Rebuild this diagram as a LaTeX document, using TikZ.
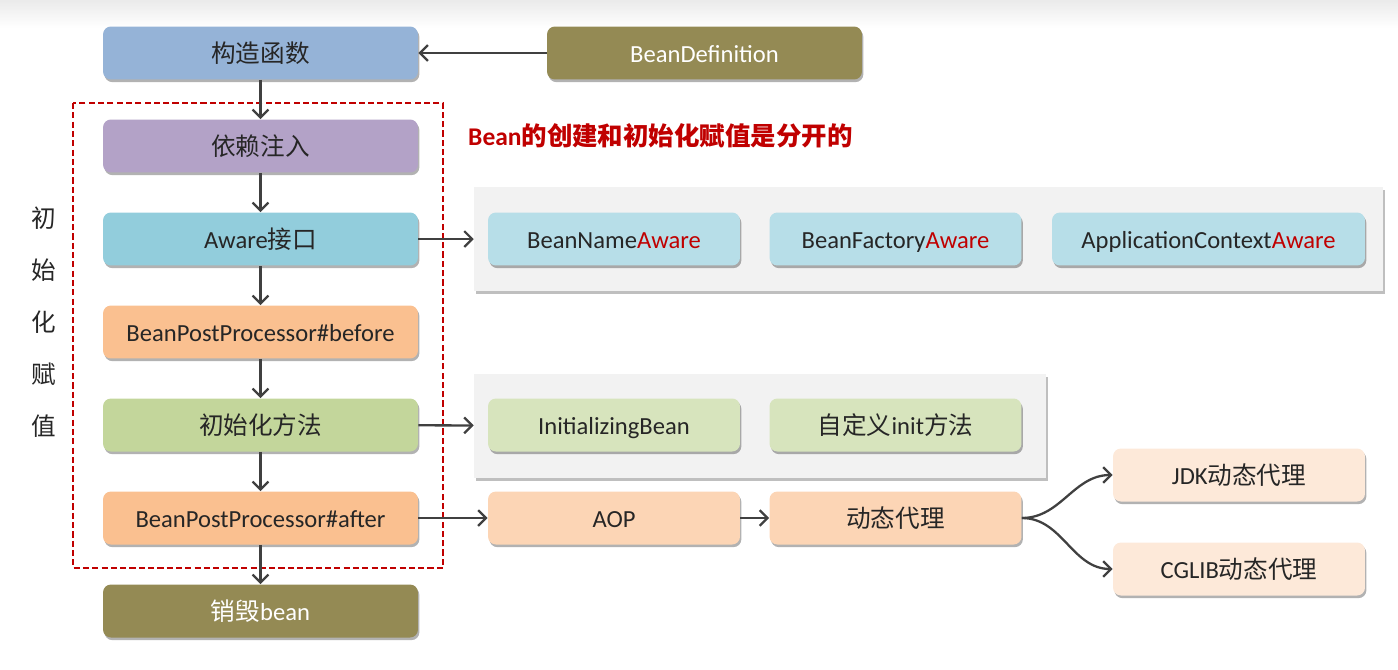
\documentclass[tikz,border=0pt]{standalone}
\usepackage{fontspec}
\setmainfont{Carlito}
\newfontfamily\cjk{Noto Sans CJK SC}
\usetikzlibrary{arrows.meta,shadows,positioning}
\definecolor{txtdark}{HTML}{262626}
\definecolor{linegray}{HTML}{404040}
\definecolor{darkred}{HTML}{C00000}
\definecolor{ctorblue}{HTML}{95B3D7}
\definecolor{dipurple}{HTML}{B3A2C7}
\definecolor{awarecyan}{HTML}{92CDDC}
\definecolor{bpporange}{HTML}{FAC090}
\definecolor{initgreen}{HTML}{C3D69B}
\definecolor{olive}{HTML}{948A54}
\definecolor{subcyan}{HTML}{B7DEE8}
\definecolor{subgreen}{HTML}{D7E4BD}
\definecolor{aoppeach}{HTML}{FCD5B5}
\definecolor{proxypeach}{HTML}{FDE9D9}
\definecolor{panelgray}{HTML}{F2F2F2}
\newcommand\zh[1]{{\cjk #1}}
\newcommand\aw{\textcolor{darkred}{Aware}}
\begin{document}
\begin{tikzpicture}[x=0.02cm,y=-0.02cm,
    box/.style={rounded corners=4.5pt, minimum width=6.3cm, minimum height=1.06cm,
        inner sep=0pt, text height=12.5pt, text depth=2pt, text=txtdark,
        font=\fontsize{14}{16}\selectfont,
        drop shadow={fill=black, opacity=0.3, shadow xshift=0.8pt, shadow yshift=-1.5pt}},
    sub/.style={box, minimum width=5.04cm},
    panel/.style={fill=panelgray, minimum height=2.08cm, inner sep=0pt,
        drop shadow={fill=black, opacity=0.25, shadow xshift=1pt, shadow yshift=-1.5pt}},
    link/.style={draw=linegray, line width=1.3pt, -{Straight Barb[length=4.5pt,width=9pt]}}]
    \useasboundingbox (0,0) rectangle (1398,669);
    \shade[top color=black!8, bottom color=white] (0,0) rectangle (1398,28);

    \node[panel, minimum width=18.18cm] (pa) at (928.5,239) {};
    \node[panel, minimum width=11.44cm] (pi) at (760,426) {};

    \node[box, fill=ctorblue] (ctor) at (260.5,53) {\zh{构造函数}};
    \node[box, fill=olive, text=white] (bd) at (704.5,53) {BeanDefinition};
    \node[box, fill=dipurple] (di) at (260.5,146) {\zh{依赖注入}};
    \node[box, fill=awarecyan] (aware) at (260.5,239) {Aware\zh{接口}};
    \node[box, fill=bpporange] (before) at (260.5,332) {BeanPostProcessor\#before};
    \node[box, fill=initgreen] (init) at (260.5,425) {\zh{初始化方法}};
    \node[box, fill=bpporange] (after) at (260.5,518) {BeanPostProcessor\#after};
    \node[box, fill=olive, text=white] (destroy) at (260.5,611) {\zh{销毁}bean};

    \node[sub, fill=subcyan] (bna) at (614,239) {BeanName\aw};
    \node[sub, fill=subcyan] (bfa) at (895.5,239) {BeanFactory\aw};
    \node[sub, fill=subcyan, minimum width=6.26cm] (aca) at (1208.5,239) {ApplicationContext\aw};
    \node[sub, fill=subgreen] (ib) at (614,425) {InitializingBean};
    \node[sub, fill=subgreen] (cinit) at (895.5,425) {\zh{自定义}init\zh{方法}};
    \node[sub, fill=aoppeach] (aop) at (614,518) {AOP};
    \node[sub, fill=aoppeach] (proxy) at (895.5,518) {\zh{动态代理}};
    \node[sub, fill=proxypeach] (jdk) at (1239,475) {JDK\zh{动态代理}};
    \node[sub, fill=proxypeach] (cglib) at (1239,569) {CGLIB\zh{动态代理}};

    \draw[darkred, line width=1.2pt, dash pattern=on 3.5pt off 1.8pt] (73,103) rectangle (443,568);
    \node[anchor=west, text=darkred, font=\bfseries\fontsize{14.5}{17}\selectfont] (note) at (462,136)
        {Bean\zh{的创建和初始化赋值是分开的}};
    \node[text=txtdark, align=center, font=\cjk\fontsize{14}{29.5}\selectfont] (side) at (44,322)
        {初\\始\\化\\赋\\值};

    \draw[link] (bd) -- (ctor);
    \draw[link] (ctor) -- (di);
    \draw[link] (di) -- (aware);
    \draw[link] (aware) -- (before);
    \draw[link] (before) -- (init);
    \draw[link] (init) -- (after);
    \draw[link] (after) -- (destroy);
    \draw[link] (aware) -- (pa);
    \draw[link] (init) -- (pi);
    \draw[link] (after) -- (aop);
    \draw[link] (aop) -- (proxy);
    \draw[link] (proxy.east) to[out=0, in=180] (jdk.west);
    \draw[link] (proxy.east) to[out=0, in=180] (cglib.west);
\end{tikzpicture}
\end{document}
